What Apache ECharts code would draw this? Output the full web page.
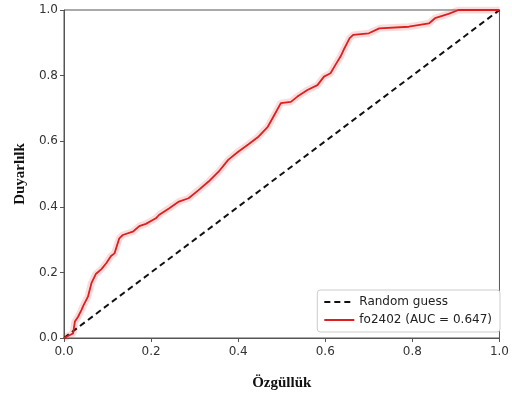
<!DOCTYPE html>
<html>
<head>
<meta charset="utf-8">
<script src="https://cdn.jsdelivr.net/npm/echarts@6/dist/echarts.min.js"></script>
<style>
  html, body { margin: 0; padding: 0; background: #fff; }
  #chart { width: 512px; height: 396px; }
</style>
</head>
<body>
<div id="chart"></div>
<script>
// ROC curve points: [1 - specificity, sensitivity]
const rocFpr = [0, 0.015, 0.021, 0.025, 0.032, 0.04, 0.045, 0.055, 0.063, 0.073, 0.086, 0.097,
  0.108, 0.116, 0.127, 0.135, 0.158, 0.173, 0.188, 0.211, 0.218, 0.241, 0.264, 0.286, 0.309,
  0.332, 0.355, 0.377, 0.4, 0.423, 0.445, 0.468, 0.483, 0.498, 0.521, 0.536, 0.559, 0.582,
  0.597, 0.612, 0.623, 0.635, 0.642, 0.656, 0.664, 0.7, 0.724, 0.792, 0.838, 0.852, 0.883,
  0.906, 1.0];
const rocTpr = [0, 0.01, 0.014, 0.05, 0.064, 0.085, 0.1, 0.126, 0.167, 0.195, 0.21, 0.228,
  0.25, 0.258, 0.304, 0.314, 0.324, 0.341, 0.348, 0.365, 0.375, 0.395, 0.416, 0.426, 0.451,
  0.477, 0.507, 0.543, 0.568, 0.59, 0.612, 0.644, 0.68, 0.716, 0.72, 0.736, 0.756, 0.771,
  0.797, 0.807, 0.832, 0.858, 0.878, 0.914, 0.924, 0.929, 0.944, 0.949, 0.959, 0.975, 0.988,
  1.0, 1.0];
const guessX = [0, 1];
const guessY = [0, 1];
const ticks = [0, 0.2, 0.4, 0.6, 0.8, 1.0];

const rocData = rocFpr.map((x, i) => [x, rocTpr[i]]);
const guessData = guessX.map((x, i) => [x, guessY[i]]);

const chart = echarts.init(document.getElementById('chart'));

const axisCommon = {
  type: 'value',
  min: ticks[0],
  max: ticks[ticks.length - 1],
  interval: 0.2,
  splitLine: { show: false },
  axisLine: { show: true, lineStyle: { color: '#555', width: 1 } },
  axisTick: { show: true, length: 4, lineStyle: { color: '#555' } },
  axisLabel: {
    color: '#333',
    fontFamily: 'DejaVu Sans',
    fontSize: 12,
    formatter: v => v.toFixed(1)
  },
  nameLocation: 'middle',
  nameTextStyle: {
    fontFamily: 'Liberation Serif',
    fontWeight: 'bold',
    fontSize: 15,
    color: '#111'
  }
};

chart.setOption({
  animation: false,
  grid: {
    left: 64,
    right: 7,
    top: 10,
    bottom: 58,
    show: true,
    borderColor: '#555',
    borderWidth: 1
  },
  xAxis: Object.assign({}, axisCommon, {
    name: 'Özgüllük',
    nameGap: 38,
    axisLabel: Object.assign({}, axisCommon.axisLabel, { margin: 8 })
  }),
  yAxis: Object.assign({}, axisCommon, {
    name: 'Duyarlılk',
    nameGap: 36,
    axisLabel: Object.assign({}, axisCommon.axisLabel, { margin: 6 })
  }),
  legend: {
    right: 12,
    bottom: 64,
    orient: 'vertical',
    data: ['Random guess', 'fo2402 (AUC = 0.647)'],
    backgroundColor: '#fff',
    borderColor: '#ccc',
    borderWidth: 1,
    borderRadius: 3,
    padding: [6, 8, 6, 6],
    itemGap: 6,
    itemWidth: 30,
    itemHeight: 12,
    itemStyle: { opacity: 0 },
    lineStyle: { width: 2 },
    textStyle: { fontFamily: 'DejaVu Sans', fontSize: 12, color: '#222' }
  },
  series: [
    {
      name: 'Random guess',
      type: 'line',
      data: guessData,
      symbol: 'none',
      z: 2,
      lineStyle: { color: '#111', width: 2, type: [6, 4] },
      itemStyle: { color: '#111' }
    },
    {
      // soft band behind the curve
      name: 'band',
      type: 'line',
      data: rocData,
      symbol: 'none',
      z: 1,
      silent: true,
      lineStyle: { color: 'rgba(230,60,60,0.18)', width: 7 }
    },
    {
      name: 'fo2402 (AUC = 0.647)',
      type: 'line',
      data: rocData,
      symbol: 'none',
      z: 3,
      lineStyle: { color: '#dd1f1f', width: 1.8 },
      itemStyle: { color: '#dd1f1f' }
    }
  ]
});
</script>
</body>
</html>
